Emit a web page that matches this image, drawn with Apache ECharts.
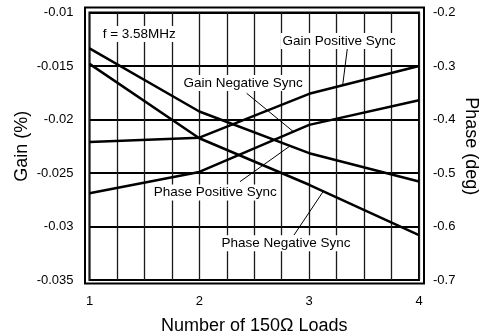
<!DOCTYPE html>
<html>
<head>
<meta charset="utf-8">
<script src="https://cdn.jsdelivr.net/npm/echarts@6/dist/echarts.min.js"></script>
<style>
  html, body { margin: 0; padding: 0; background: #fff; }
  #chart { width: 481px; height: 335px; }
</style>
</head>
<body>
<div id="chart"></div>
<script>
// Number of 150-ohm loads on the x axis
const loads = [1, 2, 3, 4];

// Differential gain (%) — left axis
const gainPositiveSync = [-0.0221, -0.0217, -0.0176, -0.0150];
const gainNegativeSync = [-0.0269, -0.0249, -0.0205, -0.0182];

// Differential phase (deg) — right axis
const phasePositiveSync = [-0.267, -0.385, -0.463, -0.516];
const phaseNegativeSync = [-0.296, -0.435, -0.522, -0.616];

// Tick labels
const loadTicks = ['1', '2', '3', '4'];
const gainTicks = ['-0.035', '-0.03', '-0.025', '-0.02', '-0.015', '-0.01'];
const phaseTicks = ['-0.7', '-0.6', '-0.5', '-0.4', '-0.3', '-0.2'];

const FONT = '"Liberation Sans", Arial, Helvetica, sans-serif';
const GRID = { left: 89.5, top: 12.5, width: 329.5, height: 267.5 };

const chart = echarts.init(document.getElementById('chart'), null, { renderer: 'canvas' });

function pairs(ys) { return loads.map((x, i) => [x, ys[i]]); }

function curve(ys, axis) {
  return {
    type: 'line',
    yAxisIndex: axis,
    data: pairs(ys),
    symbol: 'none',
    silent: true,
    animation: false,
    lineStyle: { color: '#000', width: 2.5 },
    z: 5
  };
}

const series = [
  curve(gainPositiveSync, 0),
  curve(gainNegativeSync, 0),
  curve(phasePositiveSync, 1),
  curve(phaseNegativeSync, 1)
];

chart.setOption({
  animation: false,
  backgroundColor: '#fff',
  grid: Object.assign({
    show: true, borderColor: '#000', borderWidth: 2, backgroundColor: 'transparent',
    containLabel: false, outerBoundsMode: 'none'
  }, GRID),
  xAxis: {
    type: 'value',
    min: 1, max: 4, interval: 0.25,
    axisLine: { show: false },
    axisTick: { show: false },
    axisLabel: {
      color: '#000', fontFamily: FONT, fontSize: 13, margin: 15,
      formatter: v => Math.abs(v - Math.round(v)) < 1e-9 ? loadTicks[Math.round(v) - 1] : ''
    },
    splitLine: { show: true, lineStyle: { color: '#1a1a1a', width: 1.3 } },
    name: 'Number of 150\u03A9 Loads',
    nameLocation: 'middle',
    nameGap: 37,
    nameMoveOverlap: false,
    nameTextStyle: { color: '#000', fontFamily: FONT, fontSize: 18 }
  },
  yAxis: [
    {
      type: 'value',
      min: -0.035, max: -0.01, interval: 0.005,
      axisLine: { show: false },
      axisTick: { show: false },
      axisLabel: {
        color: '#000', fontFamily: FONT, fontSize: 13, margin: 16,
        formatter: (v, i) => gainTicks[i]
      },
      splitLine: { show: true, lineStyle: { color: '#000', width: 2 } },
      name: 'Gain (%)',
      nameLocation: 'middle',
      nameRotate: 90,
      nameGap: 58,
      nameMoveOverlap: false,
      nameTextStyle: { color: '#000', fontFamily: FONT, fontSize: 18 }
    },
    {
      type: 'value',
      min: -0.7, max: -0.2, interval: 0.1,
      position: 'right',
      axisLine: { show: false },
      axisTick: { show: false },
      axisLabel: {
        color: '#000', fontFamily: FONT, fontSize: 13, margin: 14,
        formatter: (v, i) => phaseTicks[i]
      },
      splitLine: { show: false },
      name: 'Phase (deg)',
      nameLocation: 'middle',
      nameRotate: -90,
      nameGap: 43,
      nameMoveOverlap: false,
      nameTextStyle: { color: '#000', fontFamily: FONT, fontSize: 18 }
    }
  ],
  series: series
});

// Point on a curve at load count x (piecewise linear between measurements)
function valueAt(ys, x) {
  for (let i = 0; i < loads.length - 1; i++) {
    if (x >= loads[i] && x <= loads[i + 1]) {
      const t = (x - loads[i]) / (loads[i + 1] - loads[i]);
      return ys[i] + t * (ys[i + 1] - ys[i]);
    }
  }
  return ys[ys.length - 1];
}

function toPx(x, y, axis) {
  return chart.convertToPixel({ xAxisIndex: 0, yAxisIndex: axis }, [x, y]);
}

// Callout text, anchored in (load, gain) units; leaders run to the named curve
const callouts = [
  { text: 'f = 3.58MHz', at: [1.102, -0.01201], align: 'left' },
  { text: 'Gain Positive Sync', at: [3.2735, -0.012664], from: [3.347, -0.01341], curve: gainPositiveSync, axis: 0, toX: 3.305 },
  { text: 'Gain Negative Sync', at: [2.3995, -0.016589], from: [2.431, -0.01755], curve: gainNegativeSync, axis: 0, toX: 2.856 },
  { text: 'Phase Positive Sync', at: [2.1454, -0.026813], from: [2.370, -0.02581], curve: phasePositiveSync, axis: 1, toX: 2.826 },
  { text: 'Phase Negative Sync', at: [2.789, -0.03157], from: [2.862, -0.03080], curve: phaseNegativeSync, axis: 1, toX: 3.129 }
];

const graphics = [];
callouts.forEach(c => {
  if (c.curve) {
    const p0 = toPx(c.from[0], c.from[1], 0);
    const p1 = toPx(c.toX, valueAt(c.curve, c.toX), c.axis);
    graphics.push({
      type: 'line', silent: true, z: 6,
      shape: { x1: p0[0], y1: p0[1], x2: p1[0], y2: p1[1] },
      style: { stroke: '#000', lineWidth: 1 }
    });
  }
  const p = toPx(c.at[0], c.at[1], 0);
  graphics.push({
    type: 'text', silent: true, z: 7,
    x: p[0], y: p[1],
    style: {
      text: c.text,
      fill: '#000',
      font: '13.5px ' + FONT,
      align: c.align || 'center',
      verticalAlign: 'middle',
      backgroundColor: '#fff',
      padding: [1, 2]
    }
  });
});

// Outer frame around the plot area
graphics.push({
  type: 'rect', silent: true, z: 8,
  shape: { x: GRID.left - 4.5, y: GRID.top - 5, width: GRID.width + 9.5, height: GRID.height + 3.5 + 5 },
  style: { fill: 'none', stroke: '#000', lineWidth: 2 }
});

chart.setOption({ graphic: graphics });
</script>
</body>
</html>
